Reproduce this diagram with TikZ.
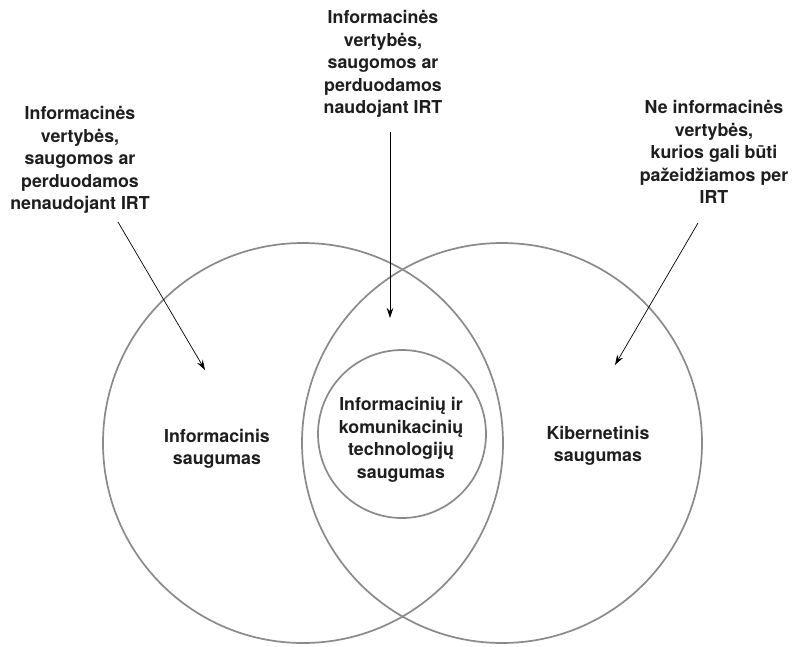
\documentclass[tikz,border=0pt]{standalone}
\usepackage{fontspec}
\setmainfont{TeX Gyre Heros}
\usetikzlibrary{arrows.meta}
\definecolor{ring}{HTML}{8A8A8A}
\definecolor{ink}{HTML}{1E1E1E}
\tikzset{
  ringline/.style={draw=ring, line width=1.7pt},
  lbl/.style={text=ink, font=\fontsize{17.8}{22.5}\selectfont\bfseries, align=center, inner sep=0pt},
  pointer/.style={draw=black, line width=0.7pt, -{Stealth[length=10pt,width=6.5pt]}}
}
\begin{document}
\begin{tikzpicture}[x=1pt,y=-1pt]
  \useasboundingbox (0,0) rectangle (794,646);
  \fill[white] (0,0) rectangle (794,646);

  % the two overlapping domains and the inner one
  \draw[ringline] (303,443) circle[radius=200];
  \draw[ringline] (502,443) circle[radius=200];
  \draw[ringline] (402,434) circle[radius=84];

  % labels inside the circles
  \node[lbl] (info) at (217,449) {Informacinis\\saugumas};
  \node[lbl] (cyber) at (598,446) {Kibernetinis\\saugumas};
  \node[lbl] (ict) at (401,440) {Informacinių ir\\komunikacinių\\technologijų\\saugumas};

  % outer captions
  \node[lbl] (capL) at (80,160) {Informacinės\\vertybės,\\saugomos ar\\perduodamos\\nenaudojant IRT};
  \node[lbl] (capC) at (383,64) {Informacinės\\vertybės,\\saugomos ar\\perduodamos\\naudojant IRT};
  \node[lbl] (capR) at (714,152) {Ne informacinės\\vertybės,\\kurios gali būti\\pažeidžiamos per\\IRT};

  % pointer ends
  \coordinate (aL) at (118,222);
  \coordinate (bL) at (205,370);
  \coordinate (aC) at (390,132);
  \coordinate (bC) at (390,318);
  \coordinate (aR) at (698,223);
  \coordinate (bR) at (615,365);

  \draw[pointer] (aL) -- (bL);
  \draw[pointer] (aC) -- (bC);
  \draw[pointer] (aR) -- (bR);
\end{tikzpicture}
\end{document}
